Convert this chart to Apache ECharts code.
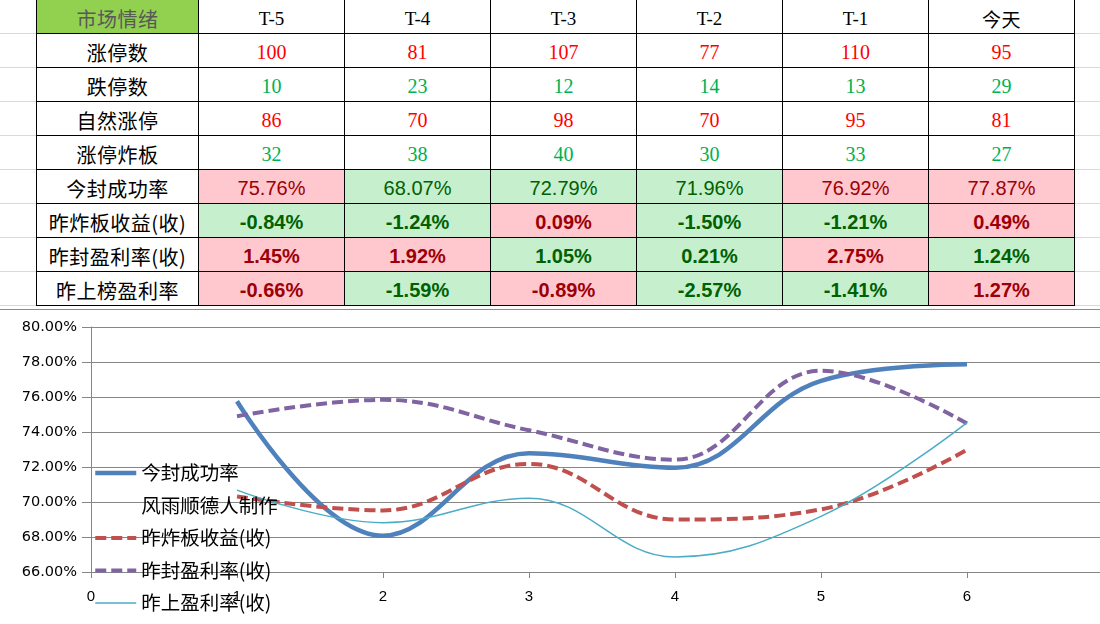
<!DOCTYPE html>
<html>
<head>
<meta charset="utf-8">
<script src="https://cdn.jsdelivr.net/npm/echarts/dist/echarts.min.js"></script>
<style>
html,body{margin:0;padding:0;background:#fff;width:1100px;height:624px;overflow:hidden;}
#sheet{position:absolute;left:0;top:0;width:1100px;height:310px;}
.gl{position:absolute;height:1px;background:#d9d9d9;}
#tbl{position:absolute;left:36px;top:-1px;display:grid;grid-template-columns:162px repeat(6,146px);grid-auto-rows:34px;border-left:1px solid #000;border-top:1px solid #000;}
.c{box-sizing:border-box;border-right:1px solid #000;border-bottom:1px solid #000;display:flex;align-items:center;justify-content:center;padding-top:4px;white-space:nowrap;background:#fff;}
.cjk{font-family:"Noto Sans CJK SC",sans-serif;font-size:20px;color:#000;letter-spacing:0.5px;}
.serif{font-family:"Liberation Serif",serif;font-size:20px;}
.pct{font-family:"Liberation Sans",Arial,sans-serif;font-size:20px;}
#chartLine{position:absolute;left:0;top:309px;width:1100px;height:1px;background:#8c8c8c;}
#chart{position:absolute;left:0;top:311px;width:1100px;height:313px;}
</style>
</head>
<body>
<div id="sheet"><div id="tbl"></div></div>
<div id="chartLine"></div>
<div id="chart"></div>
<script>
// ---------- table data ----------
const headerLabel = '市场情绪';
const columns = ['T-5', 'T-4', 'T-3', 'T-2', 'T-1', '今天'];
const limitUpCount = [100, 81, 107, 77, 110, 95];      // 涨停数
const limitDownCount = [10, 23, 12, 14, 13, 29];       // 跌停数
const naturalLimitUp = [86, 70, 98, 70, 95, 81];       // 自然涨停
const brokenLimitUp = [32, 38, 40, 30, 33, 27];        // 涨停炸板
const sealSuccessRate = [75.76, 68.07, 72.79, 71.96, 76.92, 77.87];   // 今封成功率 (%)
const brokenBoardReturn = [-0.84, -1.24, 0.09, -1.50, -1.21, 0.49];   // 昨炸板收益(收) (%)
const sealedReturn = [1.45, 1.92, 1.05, 0.21, 2.75, 1.24];            // 昨封盈利率(收) (%)
const listReturn = [-0.66, -1.59, -0.89, -2.57, -1.41, 1.27];         // 昨上榜盈利率 (%)

// ---------- chart data ----------
const chartX = [1, 2, 3, 4, 5, 6];
const chartSealRate = [75.76, 68.07, 72.79, 71.96, 76.92, 77.87];     // 今封成功率
const chartBrokenReturn = [70.32, 69.52, 72.18, 69.00, 69.58, 72.98]; // 昨炸板收益(收)
const chartSealedReturn = [74.90, 75.84, 74.10, 72.42, 77.50, 74.48]; // 昨封盈利率(收)
const chartListReturn = [70.68, 68.82, 70.22, 66.86, 69.18, 74.54];   // 昨上盈利率(收)
const seriesNames = ['今封成功率', '风雨顺德人制作', '昨炸板收益(收)', '昨封盈利率(收)', '昨上盈利率(收)'];
const yMin = 66, yMax = 80, yStep = 2;
const xMin = 0, xMax = 7, xStep = 1;

// ---------- build table ----------
const countRows = [
  ['涨停数', limitUpCount, 'up'],
  ['跌停数', limitDownCount, 'down'],
  ['自然涨停', naturalLimitUp, 'up'],
  ['涨停炸板', brokenLimitUp, 'down']
];
const pctRows = [
  ['今封成功率', sealSuccessRate, false],
  ['昨炸板收益(收)', brokenBoardReturn, true],
  ['昨封盈利率(收)', sealedReturn, true],
  ['昨上榜盈利率', listReturn, true]
];
const toneColor = {up: '#FF0000', down: '#00B050'};
const fill = {hi: '#FFC7CE', lo: '#C6EFCE'};
const ink = {hi: '#9C0006', lo: '#006100'};

const tbl = document.getElementById('tbl');
function cell(text, cls, style) {
  const d = document.createElement('div');
  d.className = 'c ' + cls;
  d.textContent = text;
  if (style) Object.assign(d.style, style);
  tbl.appendChild(d);
  return d;
}
cell(headerLabel, 'cjk', {background: '#92D050', color: '#595959'});
columns.forEach(c => {
  if (/^[\x00-\x7f]+$/.test(c)) cell(c, 'serif', {color: '#000', fontSize: '19px'});
  else cell(c, 'cjk', {fontSize: '19px'});
});
countRows.forEach(([label, vals, tone]) => {
  cell(label, 'cjk');
  vals.forEach(v => cell(String(v), 'serif', {color: toneColor[tone]}));
});
pctRows.forEach(([label, vals, bold]) => {
  cell(label, 'cjk');
  const mean = vals.reduce((a, b) => a + b, 0) / vals.length;
  vals.forEach(v => {
    const k = v > mean ? 'hi' : 'lo';
    cell(v.toFixed(2) + '%', 'pct', {background: fill[k], color: ink[k], fontWeight: bold ? 'bold' : 'normal'});
  });
});
// faint spreadsheet gridlines outside the table
const sheet = document.getElementById('sheet');
for (let r = 0; r < 9; r++) {
  const y = 33 + r * 34;
  [[0, 36], [1075, 25]].forEach(([x, w]) => {
    const g = document.createElement('div');
    g.className = 'gl';
    g.style.left = x + 'px'; g.style.top = y + 'px'; g.style.width = w + 'px';
    sheet.appendChild(g);
  });
}

// ---------- chart ----------
const chart = echarts.init(document.getElementById('chart'));
const pair = arr => chartX.map((x, i) => [x, arr[i]]);
const gridColor = '#868686';
const styles = [
  {color: '#4F81BD', width: 4.5, type: 'solid'},
  {color: 'rgba(0,0,0,0)', width: 0, type: 'solid'},
  {color: '#C0504D', width: 4, type: [11, 5]},
  {color: '#8064A2', width: 4, type: [11, 5]},
  {color: '#4BACC6', width: 1.5, type: 'solid'}
];
const dataSets = [chartSealRate, [], chartBrokenReturn, chartSealedReturn, chartListReturn];
const series = seriesNames.map((name, i) => ({
  name: name,
  type: 'line',
  data: dataSets[i].length ? pair(dataSets[i]) : [],
  smooth: 0.4,
  symbol: 'none',
  silent: true,
  animation: false,
  itemStyle: {color: styles[i].color},
  lineStyle: {color: styles[i].color, width: styles[i].width, type: styles[i].type, cap: 'butt', opacity: i === 1 ? 0 : 1}
}));
chart.setOption({
  animation: false,
  backgroundColor: 'transparent',
  grid: {left: 91, top: 16, width: 1022, height: 245, containLabel: false, outerBoundsMode: 'none'},
  legend: {
    orient: 'vertical',
    left: 88,
    top: 147,
    padding: 5,
    itemWidth: 41,
    itemHeight: 14,
    itemGap: 12.5,
    selectedMode: false,
    textStyle: {fontFamily: '"Noto Sans CJK SC", sans-serif', fontSize: 19.5, color: '#000', lineHeight: 20},
    data: seriesNames.map((n, i) => ({
      name: n,
      itemStyle: {color: 'rgba(0,0,0,0)', borderWidth: 0, opacity: 0},
      lineStyle: {color: styles[i].color, width: styles[i].width, type: styles[i].type, opacity: i === 1 ? 0 : 1}
    }))
  },
  xAxis: {
    type: 'value', min: xMin, max: xMax, interval: xStep,
    axisLine: {onZero: false, lineStyle: {color: gridColor, width: 1}},
    axisTick: {show: true, length: 6, lineStyle: {color: gridColor}},
    splitLine: {show: false},
    axisLabel: {margin: 17, fontSize: 15, color: '#000', fontFamily: 'Liberation Sans',
      formatter: v => (v <= 6 ? String(v) : '')}
  },
  yAxis: {
    type: 'value', min: yMin, max: yMax, interval: yStep,
    axisLine: {show: true, lineStyle: {color: gridColor, width: 1}},
    axisTick: {show: true, length: 9, lineStyle: {color: gridColor}},
    splitLine: {show: true, lineStyle: {color: gridColor, width: 1}},
    axisLabel: {margin: 14, fontSize: 14.5, color: '#000', fontFamily: 'DejaVu Sans',
      formatter: v => v.toFixed(2) + '%'}
  },
  series: series
});
</script>
</body>
</html>
